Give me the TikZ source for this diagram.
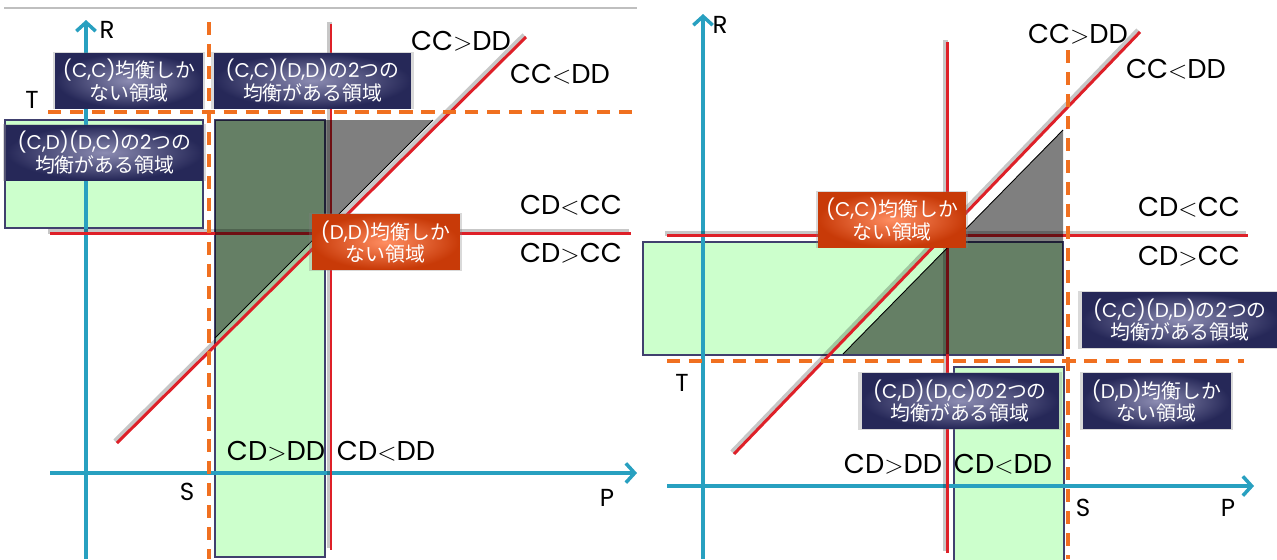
\documentclass[tikz,border=0pt]{standalone}
\usepackage{fontspec}
\setmainfont{Poppins}
\newfontfamily\jp{Noto Sans CJK JP}
\usepackage{xcolor}
\usepackage{tikz}
\usetikzlibrary{arrows.meta,shadows}

\definecolor{axisteal}{RGB}{40,160,192}
\definecolor{linered}{RGB}{222,32,40}
\definecolor{dashorange}{RGB}{240,112,32}
\definecolor{regiongreen}{RGB}{204,255,204}
\definecolor{regionedge}{RGB}{64,64,110}
\definecolor{navyout}{RGB}{38,40,88}
\definecolor{navyin}{RGB}{140,140,178}
\definecolor{orangeout}{RGB}{200,58,8}
\definecolor{orangein}{RGB}{255,142,98}

\begin{document}
\begin{tikzpicture}[x=0.02cm, y=-0.02cm,
    axis/.style={draw=axisteal, line width=2.2pt, -{Straight Barb[length=5pt,width=11pt,line width=2pt]}},
    redline/.style={draw=linered, line width=1.7pt,
      preaction={draw=black, opacity=.22, line width=3pt, transform canvas={shift={(-1pt,1pt)}}}},
    border/.style={draw=dashorange, line width=2pt, dash pattern=on 7.5pt off 5pt},
    region/.style={fill=regiongreen, draw=regionedge, line width=1pt},
    overlap/.style={fill=black, fill opacity=0.5},
    cut/.style={draw=black, line width=0.5pt},
    boxtext/.style={rectangle, text=white, align=center, inner sep=0pt,
      minimum height=1.1cm, font=\fontsize{11.3}{13}\selectfont,
      drop shadow={opacity=.3, shadow xshift=0pt, shadow yshift=0pt, shadow scale=1.04}},
    bluebox/.style={boxtext, inner color=navyin, outer color=navyout, draw=navyout, line width=0.5pt},
    orangebox/.style={boxtext, inner color=orangein, outer color=orangeout, draw=orangeout, line width=0.5pt},
    narrow/.style={minimum width=2.94cm},
    wide/.style={minimum width=3.92cm},
    ineq/.style={inner sep=0pt, font=\fontsize{15.5}{17}\selectfont},
    axislabel/.style={inner sep=0pt, font=\fontsize{14}{16}\selectfont}]
    \useasboundingbox (0,0) rectangle (1277,559);
    \draw[black!25, line width=0.6pt] (4,8) -- (637,8);

    % left
    \draw[region] (5,120) rectangle (203,228);
    \draw[region] (215,120) rectangle (325,557);
    \draw[axis] (86,559) -- (86,20);
    \draw[axis] (50,473) -- (637,473);
    \draw[redline] (331,24) -- (331,550);
    \draw[redline] (50,233) -- (631,233);
    \draw[redline] (117,443) -- (526,37);
    \draw[border] (209,22) -- (209,559);
    \draw[border] (48,112) -- (637,112);
    \fill[overlap] (215,120) -- (433,120) -- (215,338) -- cycle;
    \draw[cut] (433,120) -- (215,338);
    \node[axislabel] (lR) at (107,30) {R};
    \node[axislabel] (lT) at (32,100) {T};
    \node[axislabel] (lS) at (187,492) {S};
    \node[axislabel] (lP) at (607,498) {P};
    \node[ineq] (lccgt) at (461,41) {CC$>$DD};
    \node[ineq] (lcclt) at (560,74) {CC$<$DD};
    \node[ineq] (lcdlt) at (571,205) {CD$<$CC};
    \node[ineq] (lcdgt) at (571,253) {CD$>$CC};
    \node[ineq] (lddgt) at (276,451) {CD$>$DD};
    \node[ineq] (lddlt) at (386,451) {CD$<$DD};
    \node[bluebox, narrow] (lcc) at (129,80.5) {(C,C){\jp 均衡しか}\\{\jp ない領域}};
    \node[bluebox, wide] (lccdd) at (312.5,80.5) {(C,C)(D,D){\jp の}2{\jp つの}\\{\jp 均衡がある領域}};
    \node[bluebox, wide] (lcddc) at (104.5,152.5) {(C,D)(D,C){\jp の}2{\jp つの}\\{\jp 均衡がある領域}};
    \node[orangebox, narrow] (ldd) at (385.5,242) {(D,D){\jp 均衡しか}\\{\jp ない領域}};

    % right
    \draw[region] (643,242) rectangle (1063,355);
    \draw[region] (954,367) rectangle (1064,565);
    \draw[axis] (703,559) -- (703,14);
    \draw[axis] (667,486) -- (1254,486);
    \draw[redline] (947,42) -- (947,553);
    \draw[redline] (667,235) -- (1248,235);
    \draw[redline] (734,454) -- (1140,32);
    \draw[border] (1068,50) -- (1068,559);
    \draw[border] (667,361) -- (1244,361);
    \fill[overlap] (843,354) -- (1063,354) -- (1063,130) -- cycle;
    \draw[cut] (843,354) -- (1063,130);
    \node[axislabel] (rR) at (720,25) {R};
    \node[axislabel] (rT) at (682,383) {T};
    \node[axislabel] (rS) at (1083,508) {S};
    \node[axislabel] (rP) at (1228,508) {P};
    \node[ineq] (rccgt) at (1078,34) {CC$>$DD};
    \node[ineq] (rcclt) at (1176,69) {CC$<$DD};
    \node[ineq] (rcdlt) at (1189,207) {CD$<$CC};
    \node[ineq] (rcdgt) at (1189,256) {CD$>$CC};
    \node[ineq] (rddgt) at (893,464) {CD$>$DD};
    \node[ineq] (rddlt) at (1003,464) {CD$<$DD};
    \node[orangebox, narrow] (rcc) at (892,219.5) {(C,C){\jp 均衡しか}\\{\jp ない領域}};
    \node[bluebox, wide] (rccdd) at (1180,320) {(C,C)(D,D){\jp の}2{\jp つの}\\{\jp 均衡がある領域}};
    \node[bluebox, wide] (rcddc) at (960,401) {(C,D)(D,C){\jp の}2{\jp つの}\\{\jp 均衡がある領域}};
    \node[bluebox, narrow] (rdd) at (1156.5,401) {(D,D){\jp 均衡しか}\\{\jp ない領域}};
\end{tikzpicture}
\end{document}
